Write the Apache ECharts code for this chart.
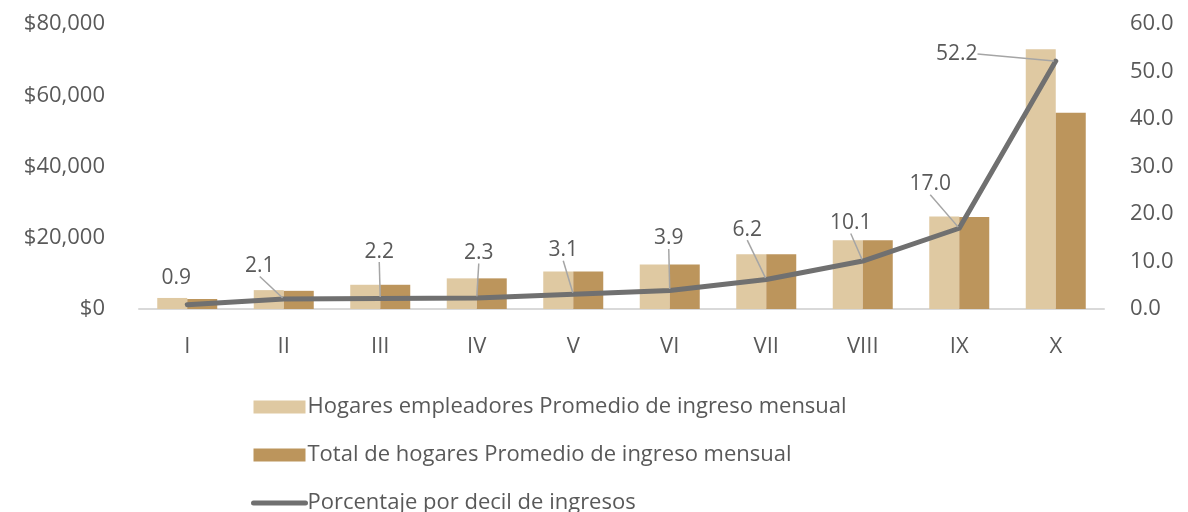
<!DOCTYPE html>
<html>
<head>
<meta charset="utf-8">
<script src="https://cdn.jsdelivr.net/npm/echarts@6/dist/echarts.min.js"></script>
<style>
  html, body { margin: 0; padding: 0; background: #fff; }
  #chart { width: 1188px; height: 512px; }
</style>
</head>
<body>
<div id="chart"></div>
<script>
    // deciles
    var deciles = ['I', 'II', 'III', 'IV', 'V', 'VI', 'VII', 'VIII', 'IX', 'X'];
    // Hogares empleadores - promedio de ingreso mensual
    var empleadores = [3100, 5300, 6800, 8600, 10500, 12500, 15350, 19300, 26000, 72900];
    // Total de hogares - promedio de ingreso mensual
    var totalHogares = [2800, 5100, 6800, 8600, 10500, 12500, 15350, 19300, 25800, 55100];
    // porcentaje por decil
    var porcentaje = [0.9, 2.1, 2.2, 2.3, 3.1, 3.9, 6.2, 10.1, 17.0, 52.2];

    var names = [
        'Hogares empleadores Promedio de ingreso mensual',
        'Total de hogares Promedio de ingreso mensual',
        'Porcentaje por decil de ingresos'
    ];

    // desplazamiento de las etiquetas (dx, dy) respecto al punto
    var labelOffsets = [[-11, -27], [-24, -33], [-1, -47], [2, -45], [-10, -44],
        [-1, -52], [-19, -50], [-12, -38], [-29, -44], [-99, -7]];

    var font = "'Open Sans', sans-serif";
    var textColor = '#595959';

    // el primer punto no lleva linea guia
    var lineData = porcentaje.map(function (v, i) {
        return {value: v, labelLine: {show: i !== 0}};
    });

    var myChart = echarts.init(document.getElementById('chart'));
    var option = {
        animation: false,
        textStyle: {fontFamily: font},
        grid: {
            left: 139,
            right: 84,
            top: 24,
            bottom: 203,
            containLabel: false
        },
        legend: {
            orient: 'vertical',
            left: 246,
            top: 389,
            height: 200,
            itemWidth: 52,
            itemHeight: 13,
            itemGap: 22,
            textStyle: {
                color: textColor,
                fontSize: 22,
                lineHeight: 26,
                fontFamily: font,
                padding: [0, 0, 0, -3]
            },
            data: [
                {name: names[0], icon: 'rect'},
                {name: names[1], icon: 'rect'},
                {name: names[2], itemStyle: {opacity: 0}, lineStyle: {width: 5, cap: 'round'}}
            ]
        },
        xAxis: {
            type: 'category',
            data: deciles,
            axisLine: {
                show: true,
                lineStyle: {color: '#D9D9D9', width: 2}
            },
            axisTick: {show: false},
            axisLabel: {
                color: textColor,
                fontSize: 22,
                margin: 27
            }
        },
        yAxis: [
            {
                type: 'value',
                min: 0,
                max: 80000,
                interval: 20000,
                splitLine: {show: false},
                axisLine: {show: false},
                axisTick: {show: false},
                axisLabel: {
                    color: textColor,
                    fontSize: 22,
                    margin: 34,
                    formatter: function (v) {
                        return '$' + v.toLocaleString('en-US');
                    }
                }
            },
            {
                type: 'value',
                min: 0,
                max: 60,
                interval: 10,
                splitLine: {show: false},
                axisLine: {show: false},
                axisTick: {show: false},
                axisLabel: {
                    color: textColor,
                    fontSize: 22,
                    margin: 26,
                    formatter: function (v) {
                        return v.toFixed(1);
                    }
                }
            }
        ],
        series: [
            {
                name: names[0],
                type: 'bar',
                data: empleadores,
                barWidth: 30,
                barGap: '0%',
                itemStyle: {color: '#DFC9A2'}
            },
            {
                name: names[1],
                type: 'bar',
                data: totalHogares,
                barWidth: 30,
                itemStyle: {color: '#BC955C'}
            },
            {
                name: names[2],
                type: 'line',
                yAxisIndex: 1,
                data: lineData,
                symbol: 'circle',
                symbolSize: 3,
                itemStyle: {color: '#707070'},
                lineStyle: {color: '#707070', width: 5, cap: 'round', join: 'round'},
                label: {
                    show: true,
                    position: 'inside',
                    color: textColor,
                    fontSize: 21,
                    formatter: function (p) {
                        return p.value.toFixed(1);
                    }
                },
                labelLine: {
                    show: true,
                    lineStyle: {color: '#A5A5A5', width: 1.5}
                },
                labelLayout: function (params) {
                    var o = labelOffsets[params.dataIndex];
                    return {dx: o[0], dy: o[1]};
                }
            }
        ]
    };
    option && myChart.setOption(option);
</script>
</body>
</html>
